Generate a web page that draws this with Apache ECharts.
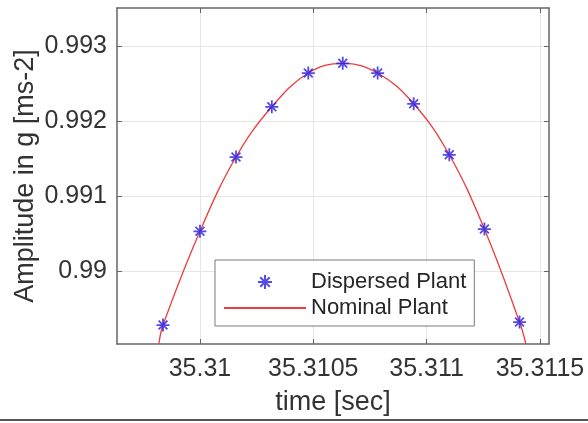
<!DOCTYPE html>
<html>
<head>
<meta charset="utf-8">
<script src="https://cdn.jsdelivr.net/npm/echarts@6/dist/echarts.min.js"></script>
<style>
html,body{margin:0;padding:0;background:#fff;}
#chart{width:588px;height:423px;}
</style>
</head>
<body>
<div id="chart"></div>
<script>
// Data
var dispersedTime = [35.309837, 35.31, 35.310159, 35.310317, 35.310478, 35.31063, 35.310784, 35.310943, 35.3111, 35.311255, 35.31141];
var dispersedAmp  = [0.98928, 0.99053, 0.99152, 0.99219, 0.99264, 0.99277, 0.99264, 0.99223, 0.99155, 0.99056, 0.98932];
var nominalTime   = [35.309819, 35.309837, 35.31, 35.310159, 35.310317, 35.310478, 35.31063, 35.310784, 35.310943, 35.3111, 35.311255, 35.31141, 35.311438];
var nominalAmp    = [0.98903, 0.98928, 0.99053, 0.99152, 0.99219, 0.99264, 0.99277, 0.99264, 0.99223, 0.99155, 0.99056, 0.98932, 0.98903];
var xTicks = [35.31, 35.3105, 35.311, 35.3115];
var xTickLabels = ['35.31', '35.3105', '35.311', '35.3115'];
var yTicks = [0.99, 0.991, 0.992, 0.993];
var yTickLabels = ['0.99', '0.991', '0.992', '0.993'];
var xRange = [35.309634, 35.31154];
var yRange = [0.989027, 0.993507];

function pairs(xs, ys){ return xs.map(function(x,i){ return [x, ys[i]]; }); }
function labelFor(ticks, labels){
  return function(v){
    for (var i=0;i<ticks.length;i++){ if (Math.abs(ticks[i]-v) < 1e-9) return labels[i]; }
    return '';
  };
}

var FONT = '"Liberation Sans", Arial, Helvetica, sans-serif';
var AXIS_COLOR = '#666666';
var TEXT_COLOR = '#333333';
var GRID_COLOR = '#e6e6e6';
var STAR = 'path://M5 0L5 10M0 5L10 5M1.6 1.6L8.4 8.4M8.4 1.6L1.6 8.4';

var chart = echarts.init(document.getElementById('chart'), null, {renderer:'canvas'});
var option = {
  backgroundColor: '#ffffff',
  animation: false,
  textStyle: {fontFamily: FONT},
  grid: {left:117, top:8, right:39, bottom:79, containLabel:false, outerBoundsMode:'none'},
  legend: {
    orient: 'vertical',
    left: 215, top: 260,
    data: [{name: 'Dispersed Plant'}, {name: 'Nominal Plant', itemStyle: {opacity: 0}}],
    itemWidth: 82, itemHeight: 14, itemGap: 2,
    padding: [10, 8, 6, 8],
    borderColor: '#7a7a7a', borderWidth: 1,
    backgroundColor: '#ffffff',
    textStyle: {fontFamily: FONT, fontSize: 22, color: '#262626', lineHeight: 24}
  },
  xAxis: [{
    type: 'value', position: 'bottom',
    min: xRange[0], max: xRange[1],
    name: 'time [sec]', nameLocation: 'middle', nameGap: 45, nameMoveOverlap: false,
    nameTextStyle: {fontFamily: FONT, fontSize: 27, color: TEXT_COLOR},
    axisLine: {show: true, onZero: false, lineStyle: {color: AXIS_COLOR, width: 1.5}},
    axisTick: {show: true, inside: true, length: 5, customValues: xTicks, lineStyle: {color: AXIS_COLOR}},
    axisLabel: {show: true, customValues: xTicks, formatter: labelFor(xTicks, xTickLabels), margin: 13, fontFamily: FONT, fontSize: 25, color: TEXT_COLOR},
    splitLine: {show: true, lineStyle: {color: GRID_COLOR, width: 1}}
  },{
    type: 'value', position: 'top',
    min: xRange[0], max: xRange[1],
    axisLine: {show: true, onZero: false, lineStyle: {color: AXIS_COLOR, width: 1.5}},
    axisTick: {show: true, inside: true, length: 5, customValues: xTicks, lineStyle: {color: AXIS_COLOR}},
    axisLabel: {show: false, customValues: xTicks},
    splitLine: {show: false}
  }],
  yAxis: [{
    type: 'value', position: 'left',
    min: yRange[0], max: yRange[1],
    name: 'Amplitude in g [ms-2]', nameLocation: 'middle', nameGap: 78, nameMoveOverlap: false,
    nameTextStyle: {fontFamily: FONT, fontSize: 27, color: TEXT_COLOR},
    axisLine: {show: true, onZero: false, lineStyle: {color: AXIS_COLOR, width: 1.5}},
    axisTick: {show: true, inside: true, length: 5, customValues: yTicks, lineStyle: {color: AXIS_COLOR}},
    axisLabel: {show: true, customValues: yTicks, formatter: labelFor(yTicks, yTickLabels), margin: 10, fontFamily: FONT, fontSize: 25, color: TEXT_COLOR},
    splitLine: {show: true, lineStyle: {color: GRID_COLOR, width: 1}}
  },{
    type: 'value', position: 'right',
    min: yRange[0], max: yRange[1],
    axisLine: {show: true, onZero: false, lineStyle: {color: AXIS_COLOR, width: 1.5}},
    axisTick: {show: true, inside: true, length: 5, customValues: yTicks, lineStyle: {color: AXIS_COLOR}},
    axisLabel: {show: false, customValues: yTicks},
    splitLine: {show: false}
  }],
  series: [{
    name: 'Nominal Plant',
    type: 'line',
    xAxisIndex: 0, yAxisIndex: 0,
    data: pairs(nominalTime, nominalAmp),
    smooth: 0.4,
    symbol: 'none', showSymbol: false,
    lineStyle: {color: '#ee3b3b', width: 1.3},
    itemStyle: {color: '#ee3b3b'},
    z: 2
  },{
    name: 'Dispersed Plant',
    type: 'scatter',
    xAxisIndex: 0, yAxisIndex: 0,
    data: pairs(dispersedTime, dispersedAmp),
    symbol: STAR, symbolSize: 13,
    itemStyle: {color: 'rgba(0,0,0,0)', borderColor: '#2a1ee0', borderWidth: 1.8},
    z: 3
  }],
  graphic: [{
    type: 'rect', left: 0, top: 419,
    shape: {width: 588, height: 2},
    style: {fill: '#555555'}
  }]
};
chart.setOption(option);
</script>
</body>
</html>
